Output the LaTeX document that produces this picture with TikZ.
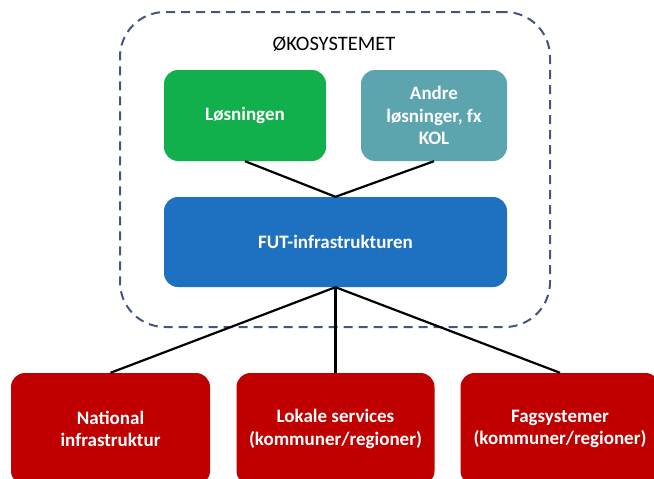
\documentclass[tikz,border=0pt]{standalone}
\usepackage{fontspec}
\setmainfont{Carlito}
\definecolor{losgreen}{HTML}{12B04C}
\definecolor{andreteal}{HTML}{5CA4AE}
\definecolor{futblue}{HTML}{1E70C0}
\definecolor{extred}{HTML}{C00000}
\definecolor{econavy}{HTML}{44557F}
\tikzset{
  boks/.style={rounded corners=14pt, text=white, align=center,
    font=\fontsize{19}{22.5}\selectfont\bfseries, inner sep=0pt},
  forbind/.style={line width=2.2pt, black}
}
\begin{document}
\begin{tikzpicture}[x=1pt,y=-1pt]
\useasboundingbox (0,0) rectangle (654,479);
% Oekosystemet
\node[draw=econavy, line width=2pt, dash pattern=on 9pt off 6pt,
  rounded corners=45pt, minimum width=430pt, minimum height=315pt] (eco) at (335,169.5) {};
\node[font=\fontsize{20.5}{24}\selectfont] (titel) at (334,44) {ØKOSYSTEMET};
% Bokse i oekosystemet
\node[boks, fill=losgreen, minimum width=162pt, minimum height=91pt] (loes) at (245,115.5) {Løsningen};
\node[boks, fill=andreteal, minimum width=146pt, minimum height=91pt] (andre) at (434,115.5) {Andre\\løsninger, fx\\KOL};
\node[boks, fill=futblue, minimum width=343pt, minimum height=90pt] (fut) at (335.5,242) {FUT-infrastrukturen};
% Eksterne bokse
\node[boks, fill=extred, minimum width=199pt, minimum height=112pt] (nat) at (110.5,429) {National\\infrastruktur};
\node[boks, fill=extred, minimum width=198pt, minimum height=112pt] (lok) at (335.5,429) {Lokale services\\(kommuner/regioner)};
\node[boks, fill=extred, minimum width=199pt, minimum height=112pt] (fag) at (560,429) {Fagsystemer\\(kommuner/regioner)};
% Forbindelser
\draw[forbind] (loes.south) -- (fut.north) -- (andre.south);
\foreach \m in {nat,lok,fag}
\draw[forbind] (fut.south) -- (\m.north);
\end{tikzpicture}
\end{document}
